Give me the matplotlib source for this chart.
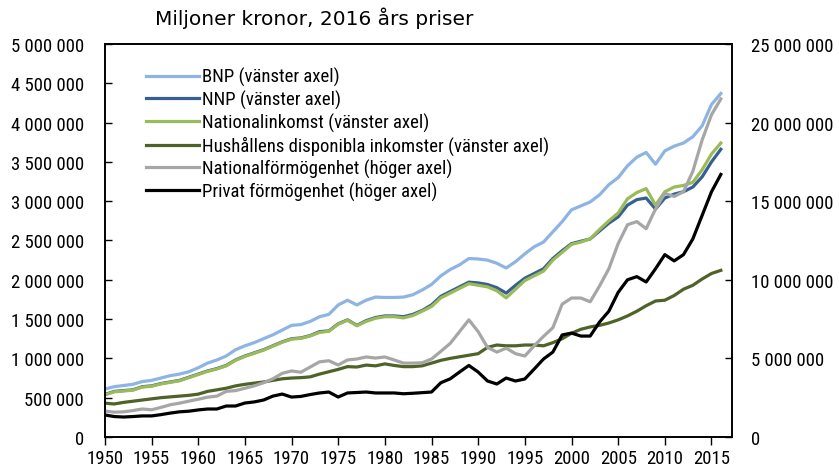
import matplotlib
matplotlib.use('Agg')
import matplotlib.pyplot as plt
from matplotlib.ticker import FuncFormatter, MultipleLocator

plt.rcParams['font.family'] = ['Roboto Condensed', 'DejaVu Sans']

years = list(range(1950, 2017))

# left axis, miljoner kronor
bnp = [610, 640, 655, 670, 705, 720, 750, 780, 800, 830,
       880, 940, 980, 1030, 1110, 1160, 1200, 1250, 1300, 1360,
       1420, 1430, 1470, 1530, 1560, 1680, 1740, 1680, 1740, 1780,
       1775, 1775, 1780, 1810, 1870, 1940, 2050, 2130, 2190, 2270,
       2265, 2250, 2210, 2150, 2230, 2330, 2420, 2480, 2610, 2740,
       2890, 2940, 2990, 3080, 3210, 3300, 3450, 3560, 3620, 3470,
       3640, 3700, 3740, 3820, 3960, 4230, 4370]
nnp = [540, 580, 590, 600, 640, 650, 680, 700, 720, 760,
       800, 840, 870, 910, 980, 1030, 1070, 1110, 1160, 1210,
       1250, 1260, 1290, 1340, 1350, 1440, 1490, 1420, 1480, 1520,
       1540, 1540, 1530, 1560, 1610, 1680, 1790, 1850, 1910, 1970,
       1960, 1940, 1900, 1830, 1930, 2020, 2080, 2140, 2270, 2370,
       2460, 2490, 2520, 2620, 2720, 2800, 2950, 3020, 3040, 2900,
       3040, 3090, 3120, 3180, 3310, 3500, 3660]
natinkomst = [535, 575, 585, 595, 635, 645, 675, 695, 715, 755,
              795, 835, 865, 905, 975, 1025, 1065, 1105, 1155, 1205,
              1245, 1255, 1285, 1330, 1345, 1435, 1485, 1415, 1470, 1510,
              1530, 1530, 1515, 1545, 1600, 1660, 1770, 1830, 1890, 1950,
              1930, 1910, 1860, 1770, 1880, 1990, 2050, 2110, 2250, 2350,
              2450, 2480, 2520, 2640, 2750, 2850, 3030, 3110, 3160, 2950,
              3120, 3180, 3200, 3240, 3400, 3600, 3740]
hushall = [430, 420, 440, 455, 470, 485, 500, 510, 520, 530,
           545, 580, 600, 620, 650, 670, 685, 700, 720, 740,
           750, 755, 765, 800, 830, 860, 895, 890, 915, 905,
           930, 910, 895, 895, 905, 940, 975, 1000, 1020, 1040,
           1060, 1140, 1170, 1160, 1160, 1170, 1170, 1160, 1200, 1250,
           1320, 1370, 1400, 1420, 1450, 1490, 1540, 1600, 1670, 1730,
           1740, 1800, 1880, 1930, 2010, 2080, 2120]

# right axis
natformogenhet = [1650, 1580, 1600, 1680, 1780, 1730, 1880, 2050, 2150, 2280,
                  2400, 2530, 2600, 2900, 2950, 3100, 3250, 3450, 3700, 4050,
                  4200, 4120, 4450, 4780, 4850, 4580, 4900, 4960, 5090, 5020,
                  5090, 4900, 4700, 4700, 4720, 4960, 5450, 5950, 6700, 7450,
                  6700, 5700, 5400, 5650, 5300, 5150, 5800, 6400, 6950, 8450,
                  8840, 8840, 8600, 9600, 10700, 12300, 13500, 13700, 13250, 14500,
                  15500, 15300, 15600, 16900, 18900, 20500, 21500]
privformogenhet = [1400, 1300, 1270, 1300, 1340, 1340, 1420, 1520, 1600, 1640,
                   1720, 1780, 1780, 1970, 1970, 2160, 2230, 2350, 2600, 2730,
                   2540, 2580, 2700, 2800, 2860, 2540, 2800, 2830, 2860, 2800,
                   2800, 2800, 2750, 2780, 2820, 2860, 3450, 3700, 4130, 4550,
                   4130, 3560, 3370, 3750, 3560, 3690, 4320, 4960, 5400, 6490,
                   6610, 6420, 6420, 7310, 8000, 9200, 10000, 10200, 9860, 10700,
                   11600, 11200, 11600, 12600, 14100, 15600, 16700]

def k(v):
    return [x * 1000 for x in v]

def space_fmt(v, pos):
    return '{:,}'.format(int(round(v))).replace(',', ' ')

fig = plt.figure(figsize=(8.39, 4.77), dpi=100)
ax = fig.add_axes([0.125, 0.0818, 0.7475, 0.8239])
ax2 = ax.twinx()

lw = 2.3
l1, = ax.plot(years, k(bnp), color='#8DB4E2', lw=lw, label='BNP (vänster axel)')
l2, = ax.plot(years, k(nnp), color='#376092', lw=lw, label='NNP (vänster axel)')
l3, = ax.plot(years, k(natinkomst), color='#9BBB59', lw=lw, label='Nationalinkomst (vänster axel)')
l4, = ax.plot(years, k(hushall), color='#4F6228', lw=lw, label='Hushållens disponibla inkomster (vänster axel)')
l5, = ax2.plot(years, k(natformogenhet), color='#A6A6A6', lw=lw, label='Nationalförmögenhet (höger axel)')
l6, = ax2.plot(years, k(privformogenhet), color='black', lw=lw, label='Privat förmögenhet (höger axel)')

ax.set_xlim(1950, 2017.2)
ax.set_ylim(0, 5000000)
ax2.set_ylim(0, 25000000)
ax.xaxis.set_major_locator(MultipleLocator(5))
ax.yaxis.set_major_locator(MultipleLocator(500000))
ax2.yaxis.set_major_locator(MultipleLocator(5000000))
ax.yaxis.set_major_formatter(FuncFormatter(space_fmt))
ax2.yaxis.set_major_formatter(FuncFormatter(space_fmt))

ax.tick_params(axis='x', direction='out', length=6, width=1, pad=3, labelsize=13.5)
ax.tick_params(axis='y', direction='in', length=5, width=1, pad=15, labelsize=13.5)
ax2.tick_params(axis='y', direction='in', length=5, width=1, pad=14, labelsize=13.5)
for a in (ax, ax2):
    for s in a.spines.values():
        s.set_linewidth(1.2)

leg = ax.legend(handles=[l1, l2, l3, l4, l5, l6], loc='upper left',
                bbox_to_anchor=(0.054, 0.96), frameon=False, fontsize=13.5,
                handlelength=2.8, handletextpad=0.2, labelspacing=0.2,
                borderaxespad=0)

# title is in a wider, lighter face than the rest
fig.text(0.185, 0.962, 'Miljoner kronor, 2016 års priser', fontsize=14.5,
         family=['DejaVu Sans'], ha='left', va='center')

fig.savefig('out.png', dpi=100)
